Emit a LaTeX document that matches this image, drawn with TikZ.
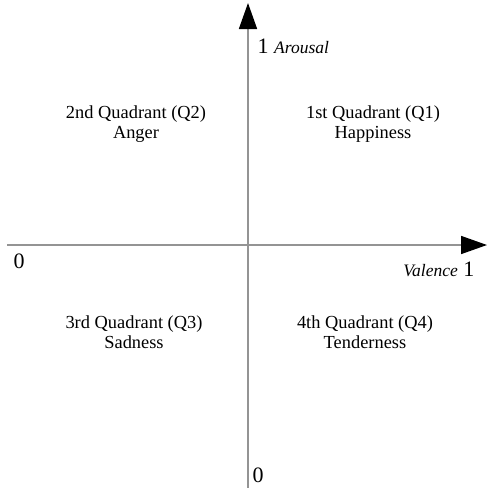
\documentclass[tikz,border=0pt]{standalone}
\usepackage{fontspec}
\setmainfont{Liberation Serif}
\usetikzlibrary{arrows.meta}
\begin{document}
\begin{tikzpicture}[x=1pt, y=-1pt,
    axis/.style={draw=black!42, line width=1.6pt, -{Triangle[length=26pt,width=18pt,color=black]}},
    quad/.style={align=center, inner sep=0pt, anchor=base, font=\fontsize{18.4}{19.5}\selectfont},
    tick/.style={inner sep=0pt, font=\fontsize{22}{24}\selectfont},
    axlabel/.style={font=\fontsize{17.5}{20}\selectfont\itshape}]
    \useasboundingbox (0,0) rectangle (487,488);
    \coordinate (west) at (7,245);
    \coordinate (east) at (487,245);
    \coordinate (south) at (248,488);
    \coordinate (north) at (248,3);
    \draw[axis] (west) -- (east);
    \draw[axis] (south) -- (north);
    % end values
    \node[tick, anchor=base west] (ytop) at (257.5,53) {1~{\fontsize{17.5}{20}\selectfont\itshape Arousal}};
    \node[tick, anchor=base east] (xright) at (474.5,276) {{\fontsize{17.5}{20}\selectfont\itshape Valence}~1};
    \node[tick, anchor=base west] (xleft) at (13.5,268) {0};
    \node[tick, anchor=base west] (ybot) at (252.5,482) {0};
    % quadrants
    \node[quad] (q1) at (373,138) {1st Quadrant (Q1)\\Happiness};
    \node[quad] (q2) at (136,138) {2nd Quadrant (Q2)\\Anger};
    \node[quad] (q3) at (134,348) {3rd Quadrant (Q3)\\Sadness};
    \node[quad] (q4) at (365,348) {4th Quadrant (Q4)\\Tenderness};
\end{tikzpicture}
\end{document}
